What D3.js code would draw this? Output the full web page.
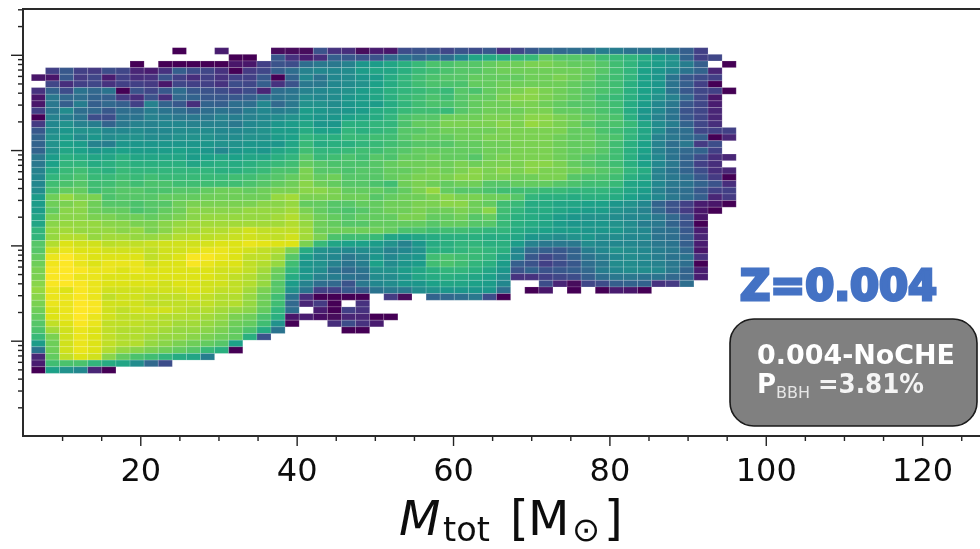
<!DOCTYPE html>
<html><head><meta charset="utf-8">
<style>html,body{margin:0;padding:0;background:#fff;overflow:hidden}svg{display:block}text{font-family:"DejaVu Sans",sans-serif}</style>
<script src="https://cdn.jsdelivr.net/npm/d3@7/dist/d3.min.js"></script>
</head><body><svg id="c" width="980" height="549"></svg>
<script>
const _ = null;
// colour level (0-100 along viridis) of each histogram bin, top row first, left column first
const r00=[_,_,_,_,_,_,_,_,_,_,0,_,_,8,_,_,_,2,2,2,24,14,12,2,8,6,22,24,24,20,24,22,26,14,20,26,32,32,34,34,40,40,36,36,36,34,28,18];
const r01=[_,_,_,_,_,_,_,_,_,_,_,_,_,_,0,0,_,26,14,8,12,28,26,24,24,32,36,32,38,34,44,56,58,60,64,64,72,70,70,70,66,64,62,58,52,48,30,18,20];
const r02=[_,_,_,_,_,_,_,0,_,0,0,0,0,0,6,6,18,24,22,34,38,38,42,50,52,56,60,64,68,68,70,70,72,74,74,76,76,74,72,72,70,66,62,56,52,48,40,28,_,0];
const r03=[_,18,26,18,16,22,20,10,8,14,28,22,20,14,0,16,20,28,34,42,44,44,46,52,56,56,60,64,66,68,70,70,72,74,74,74,74,74,74,72,70,66,62,54,50,44,36,30,10];
const r04=[6,6,26,16,20,8,18,12,14,24,18,12,18,14,18,18,26,0,30,44,36,44,46,50,52,58,62,66,68,70,70,72,72,72,72,74,74,76,74,72,68,66,62,54,50,36,26,22,18];
const r05=[_,20,12,18,20,14,18,18,16,6,20,18,18,14,22,20,28,14,24,38,38,44,46,48,54,58,62,66,68,68,68,72,72,74,74,74,74,74,72,70,68,66,60,54,50,36,28,18,0];
const r06=[14,30,22,36,32,36,0,24,20,26,34,26,24,22,18,22,10,34,36,42,44,46,48,52,56,60,62,64,66,64,70,68,72,74,76,78,76,74,72,70,68,66,60,54,50,36,26,20,18,0];
const r07=[6,38,32,34,30,28,16,12,24,12,32,30,26,26,26,28,34,36,38,46,44,46,50,52,56,60,64,66,68,66,70,72,72,76,78,78,76,74,72,70,66,64,60,54,48,42,32,20,6];
const r08=[6,38,28,40,28,32,28,18,42,30,26,12,30,28,34,34,44,32,38,48,48,46,50,52,52,58,62,66,68,68,70,72,74,74,76,76,74,72,70,70,68,66,58,52,44,38,26,20,8];
const r09=[18,38,46,34,32,26,34,34,40,36,34,30,34,36,34,40,44,40,42,52,50,48,50,52,58,60,64,66,66,64,70,72,74,74,74,76,76,72,72,70,68,66,58,50,44,36,24,20,10];
const r10=[0,42,40,36,22,22,36,36,42,40,38,38,38,42,40,42,44,46,48,52,50,50,54,56,58,62,68,70,70,74,74,74,76,76,76,78,78,76,74,72,70,68,60,50,42,36,26,20,10];
const r11=[16,44,48,42,40,30,38,42,42,44,44,42,42,42,38,44,46,50,52,56,50,50,60,60,62,62,68,72,72,76,76,76,76,78,76,80,78,76,74,70,68,68,64,56,46,40,30,20,12];
const r12=[26,46,50,48,48,44,44,46,44,44,46,46,46,44,44,46,48,52,52,58,54,54,62,60,62,64,70,70,72,74,74,74,74,76,76,76,76,76,72,72,68,66,62,56,46,36,34,20,18,18];
const r13=[30,48,52,46,50,46,48,48,46,46,48,48,48,46,46,48,48,52,54,62,60,60,64,64,66,66,70,72,72,72,74,74,76,76,76,76,76,74,72,72,70,68,62,56,42,38,34,28,0,10];
const r14=[30,48,54,52,42,40,50,50,50,50,50,50,50,48,48,50,50,50,56,64,58,60,60,62,64,66,68,70,70,70,72,72,74,74,76,76,76,74,72,72,70,66,60,54,42,34,38,16,22];
const r15=[30,48,56,54,50,52,54,52,52,52,54,52,50,44,50,52,50,56,58,66,62,62,64,66,66,68,70,72,72,72,72,72,74,74,76,76,76,74,72,72,70,66,60,54,42,36,32,30,18];
const r16=[38,52,60,58,56,56,60,56,56,56,56,52,54,56,54,56,56,60,62,70,64,66,68,66,70,68,72,72,74,72,72,70,74,76,76,76,76,74,72,70,68,66,60,52,44,36,30,22,12,10];
const r17=[38,54,62,62,58,60,62,60,60,60,60,56,58,60,58,60,62,64,66,72,70,68,68,68,70,72,74,74,74,74,76,74,76,76,76,78,78,76,72,70,68,66,60,54,44,38,30,18,12];
const r18=[42,58,64,66,62,60,64,62,62,62,62,62,62,60,60,62,64,68,68,76,70,70,68,70,70,72,72,74,76,74,76,78,76,78,76,78,76,76,74,72,70,68,62,58,42,36,30,22,12,10];
const r19=[44,62,66,68,64,64,66,64,66,64,64,64,64,64,66,66,68,70,72,76,72,74,70,70,70,72,74,76,76,76,78,78,76,76,74,74,76,76,70,68,68,66,60,56,42,38,34,26,16,0];
const r20=[44,66,68,70,66,66,68,66,68,68,66,66,66,66,66,68,70,72,74,78,74,72,70,70,68,66,74,76,74,72,74,74,70,70,72,72,72,70,68,66,66,64,56,54,44,38,36,30,24,12];
const r21=[46,68,72,72,66,68,70,70,68,68,70,70,72,74,74,72,74,76,76,78,78,76,72,72,72,70,72,76,80,72,70,70,68,66,66,66,64,64,62,62,62,60,56,52,42,36,34,26,18,18];
const r22=[52,74,80,76,76,68,70,70,70,72,72,72,74,74,74,74,74,80,82,76,76,76,74,74,70,72,74,74,76,78,76,76,74,74,70,62,60,60,58,60,60,58,54,50,44,38,34,28,10,16];
const r23=[52,74,76,78,74,70,70,68,70,70,74,76,76,76,76,76,78,78,80,72,72,70,70,72,72,74,74,76,76,78,78,74,72,66,64,58,58,56,56,54,54,50,48,44,30,24,18,8,6,0];
const r24=[52,72,78,78,74,72,72,68,70,72,74,78,78,78,78,80,80,80,82,76,72,70,68,70,72,74,74,76,74,74,76,74,78,66,62,58,58,56,54,52,52,48,46,42,32,24,16,6,0];
const r25=[56,76,78,78,76,76,74,74,72,74,76,78,80,80,80,80,80,82,84,78,74,72,70,72,72,72,76,76,72,72,74,70,72,64,60,58,56,52,50,48,48,46,44,44,38,32,24,6];
const r26=[56,78,80,80,80,78,78,76,76,78,80,82,82,82,82,82,82,82,84,80,74,72,70,70,72,72,72,72,70,72,72,70,70,64,60,58,56,52,50,50,50,48,46,40,38,30,24,0];
const r27=[62,80,82,80,80,80,78,80,76,78,82,82,84,84,86,88,86,86,86,82,74,74,74,74,74,72,68,68,66,66,66,64,62,62,58,56,54,52,52,50,50,50,46,44,36,34,26,8];
const r28=[62,80,84,84,80,82,82,80,80,82,84,85,85,86,87,88,87,86,88,82,76,68,66,66,64,56,54,56,58,60,60,60,58,58,56,50,48,46,48,50,46,46,44,44,36,34,28,10];
const r29=[70,84,90,88,88,85,86,86,87,88,88,88,89,90,90,92,91,90,90,76,64,56,54,54,52,48,42,50,58,60,62,62,60,60,52,42,38,38,38,46,44,44,44,42,38,36,28,8];
const r30=[70,88,92,90,90,88,88,88,86,88,88,90,92,92,90,88,86,84,76,58,48,46,44,46,48,42,44,48,60,60,62,64,62,60,44,32,28,26,30,40,44,48,46,44,40,38,32,6];
const r31=[72,92,96,92,90,90,90,90,86,88,90,94,94,92,90,86,86,82,70,52,46,44,38,42,50,44,48,50,66,68,66,64,62,56,44,26,20,24,30,36,40,44,46,44,40,36,36,14];
const r32=[74,93,97,92,90,92,92,92,88,90,90,94,92,90,90,86,84,80,66,50,48,42,36,40,54,46,50,52,66,68,66,62,60,52,28,24,18,22,26,34,38,46,46,44,42,38,34,0];
const r33=[76,94,98,94,92,92,90,92,90,90,90,90,90,88,88,86,82,74,62,50,46,36,32,36,48,48,52,56,60,62,62,60,56,50,24,30,24,26,28,32,40,44,46,46,44,38,30,8];
const r34=[76,94,96,92,92,90,90,90,90,90,90,90,90,88,86,84,80,72,58,50,42,40,36,34,46,46,50,56,58,60,58,56,54,46,14,14,18,20,22,28,34,38,38,36,36,32,30,8];
const r35=[78,94,96,94,92,90,90,90,90,88,90,90,88,88,86,84,80,70,52,42,34,32,24,38,44,46,50,50,54,56,56,54,52,44,_,_,22,10,2,20,22,28,30,30,14,16,34];
const r36=[80,92,90,94,92,88,88,88,88,88,88,90,88,86,86,82,76,70,48,36,18,18,26,26,36,38,38,46,48,50,50,50,50,34,_,0,6,_,0,_,0,8,6,0];
const r37=[78,92,92,94,92,86,88,88,86,86,86,88,86,84,84,80,74,66,36,12,0,0,0,0,_,16,2,_,30,32,34,38,22,0];
const r38=[76,92,92,96,94,88,88,88,86,86,86,86,86,84,84,80,74,66,32,10,16,0,_,14];
const r39=[74,90,92,96,94,88,86,88,88,88,86,84,84,82,80,78,72,62,34,_,8,0,18,14];
const r40=[72,90,92,96,92,88,86,86,86,84,84,84,82,80,76,74,68,60,6,8,4,2,10,10,0,0];
const r41=[70,86,90,94,92,86,86,86,84,84,82,82,80,78,74,72,66,48,0,_,_,12,22,14,8];
const r42=[68,82,88,92,90,86,84,84,84,82,80,80,78,76,72,68,58,36,_,_,_,_,0,0];
const r43=[64,76,88,92,90,86,84,84,82,80,80,78,76,74,72,60,24];
const r44=[52,74,88,92,90,86,84,84,80,78,76,74,72,70,54];
const r45=[36,74,88,92,90,84,80,78,76,74,72,70,64,60,0];
const r46=[10,72,86,90,88,78,72,68,66,62,58,56,40];
const r47=[8,66,68,68,62,58,56,46,32,22];
const r48=[0,54,48,44,10,0];
const binRows=[r00,r01,r02,r03,r04,r05,r06,r07,r08,r09,r10,r11,r12,r13,r14,r15,r16,r17,r18,r19,r20,r21,r22,r23,r24,r25,r26,r27,r28,r29,r30,r31,r32,r33,r34,r35,r36,r37,r38,r39,r40,r41,r42,r43,r44,r45,r46,r47,r48];

// bin layout in data units
const xBinStart=6.07, xBinWidth=1.803;
const yBinLow=4.54, yBinHigh=11870;

const xMajorTicks=[20,40,60,80,100,120];
const xMinorTicks=[10,15,25,30,35,45,50,55,65,70,75,85,90,95,105,110,115,125];
const yMajorTicks=[10,100,1000,10000];
const yMinorTicks=[2,3,4,5,6,7,8,9,20,30,40,50,60,70,80,90,200,300,400,500,600,700,800,900,2000,3000,4000,5000,6000,7000,8000,9000,20000,30000];

const xLabelMain="M", xLabelSub="tot", xLabelUnit="M", xLabelSun="\u2299";
const zLabel="Z=0.004";
const boxLine1="0.004-NoCHE", boxP="P", boxSub="BBH", boxRest="=3.81%";

const svg=d3.select("#c");
const defs=svg.append("defs");
defs.append("filter").attr("id","soft").attr("x","-2%").attr("y","-2%").attr("width","104%").attr("height","104%")
  .append("feGaussianBlur").attr("stdDeviation",0.5);
defs.append("filter").attr("id","softT").attr("x","-5%").attr("y","-5%").attr("width","110%").attr("height","110%")
  .append("feGaussianBlur").attr("stdDeviation",0.35);

const x=d3.scaleLinear().domain([5,127.4]).range([23,980]);
const y=d3.scaleLog().domain([1,30000]).range([436,9.3]);
const colour=d3.scaleSequential(d3.interpolateViridis).domain([0,95]).clamp(true);
const nRows=binRows.length;
const logStep=(Math.log10(yBinHigh)-Math.log10(yBinLow))/nRows;
const edge=i=>Math.pow(10,Math.log10(yBinHigh)-logStep*i);

const cells=[];
binRows.forEach((row,i)=>row.forEach((v,j)=>{ if(v!==null&&v!==undefined) cells.push({i,j,v}); }));
svg.append("g").attr("filter","url(#soft)").selectAll("rect").data(cells).join("rect")
  .attr("x",d=>x(xBinStart+d.j*xBinWidth))
  .attr("y",d=>y(edge(d.i)))
  .attr("width",d=>x(xBinStart+(d.j+1)*xBinWidth)-x(xBinStart+d.j*xBinWidth))
  .attr("height",d=>y(edge(d.i+1))-y(edge(d.i)))
  .attr("fill",d=>colour(d.v))
  .attr("stroke","#fff").attr("stroke-opacity",0.17).attr("stroke-width",0.9);

const axes=svg.append("g").attr("filter","url(#softT)");
const bottom=axes.append("g").attr("transform","translate(0,436)");
bottom.append("g").call(d3.axisBottom(x).tickValues(xMinorTicks).tickSize(5).tickFormat(""));
bottom.append("g").call(d3.axisBottom(x).tickValues(xMajorTicks).tickSize(10).tickPadding(12).tickFormat(d3.format("d")));
const left=axes.append("g").attr("transform","translate(23,0)");
left.append("g").call(d3.axisLeft(y).tickValues(yMinorTicks).tickSize(5).tickFormat(""));
left.append("g").call(d3.axisLeft(y).tickValues(yMajorTicks).tickSize(12).tickFormat(""));
axes.selectAll(".domain").remove();
axes.selectAll(".tick line").attr("stroke","#222").attr("stroke-width",1.4);
bottom.selectAll("text").attr("font-size",32).attr("fill","#111").attr("font-family","DejaVu Sans");
axes.append("path").attr("d",d3.line()([[980,9],[23,9],[23,436],[980,436]])).attr("fill","none").attr("stroke","#2a2a2a").attr("stroke-width",2);

const lab=svg.append("g").attr("filter","url(#softT)").attr("fill","#111");
lab.append("text").attr("x",399).attr("y",535).attr("font-size",48).attr("font-style","italic").text(xLabelMain);
lab.append("text").attr("x",443).attr("y",541).attr("font-size",33.5).text(xLabelSub);
lab.append("text").attr("x",510).attr("y",535).attr("font-size",48).text("[");
lab.append("text").attr("x",528).attr("y",535).attr("font-size",48).text(xLabelUnit);
lab.append("text").attr("x",572).attr("y",541).attr("font-size",33.5).text(xLabelSun);
lab.append("text").attr("x",604).attr("y",535).attr("font-size",48).text("]");

svg.append("text").attr("x",740).attr("y",300).attr("font-size",42).attr("font-weight",700)
  .attr("fill","#4472c4").attr("stroke","#4472c4").attr("stroke-width",3).attr("stroke-linejoin","miter")
  .attr("textLength",197).attr("lengthAdjust","spacingAndGlyphs").text(zLabel);

const box=svg.append("g").attr("filter","url(#softT)");
box.append("rect").attr("x",730).attr("y",319).attr("width",247).attr("height",107).attr("rx",24)
  .attr("fill","#808080").attr("stroke","#1a1a1a").attr("stroke-width",1.6);
box.append("text").attr("x",757).attr("y",364).attr("font-size",26).attr("font-weight",700).attr("fill","#fff")
  .attr("textLength",198).attr("lengthAdjust","spacingAndGlyphs").text(boxLine1);
box.append("text").attr("x",757).attr("y",393).attr("font-size",26).attr("font-weight",700).attr("fill","#fff").text(boxP);
box.append("text").attr("x",776).attr("y",398).attr("font-size",16).attr("fill","#e6e6e6").text(boxSub);
box.append("text").attr("x",818).attr("y",393).attr("font-size",26).attr("font-weight",700).attr("fill","#f4f4f4")
  .attr("textLength",106).attr("lengthAdjust","spacingAndGlyphs").text(boxRest);
</script></body></html>
